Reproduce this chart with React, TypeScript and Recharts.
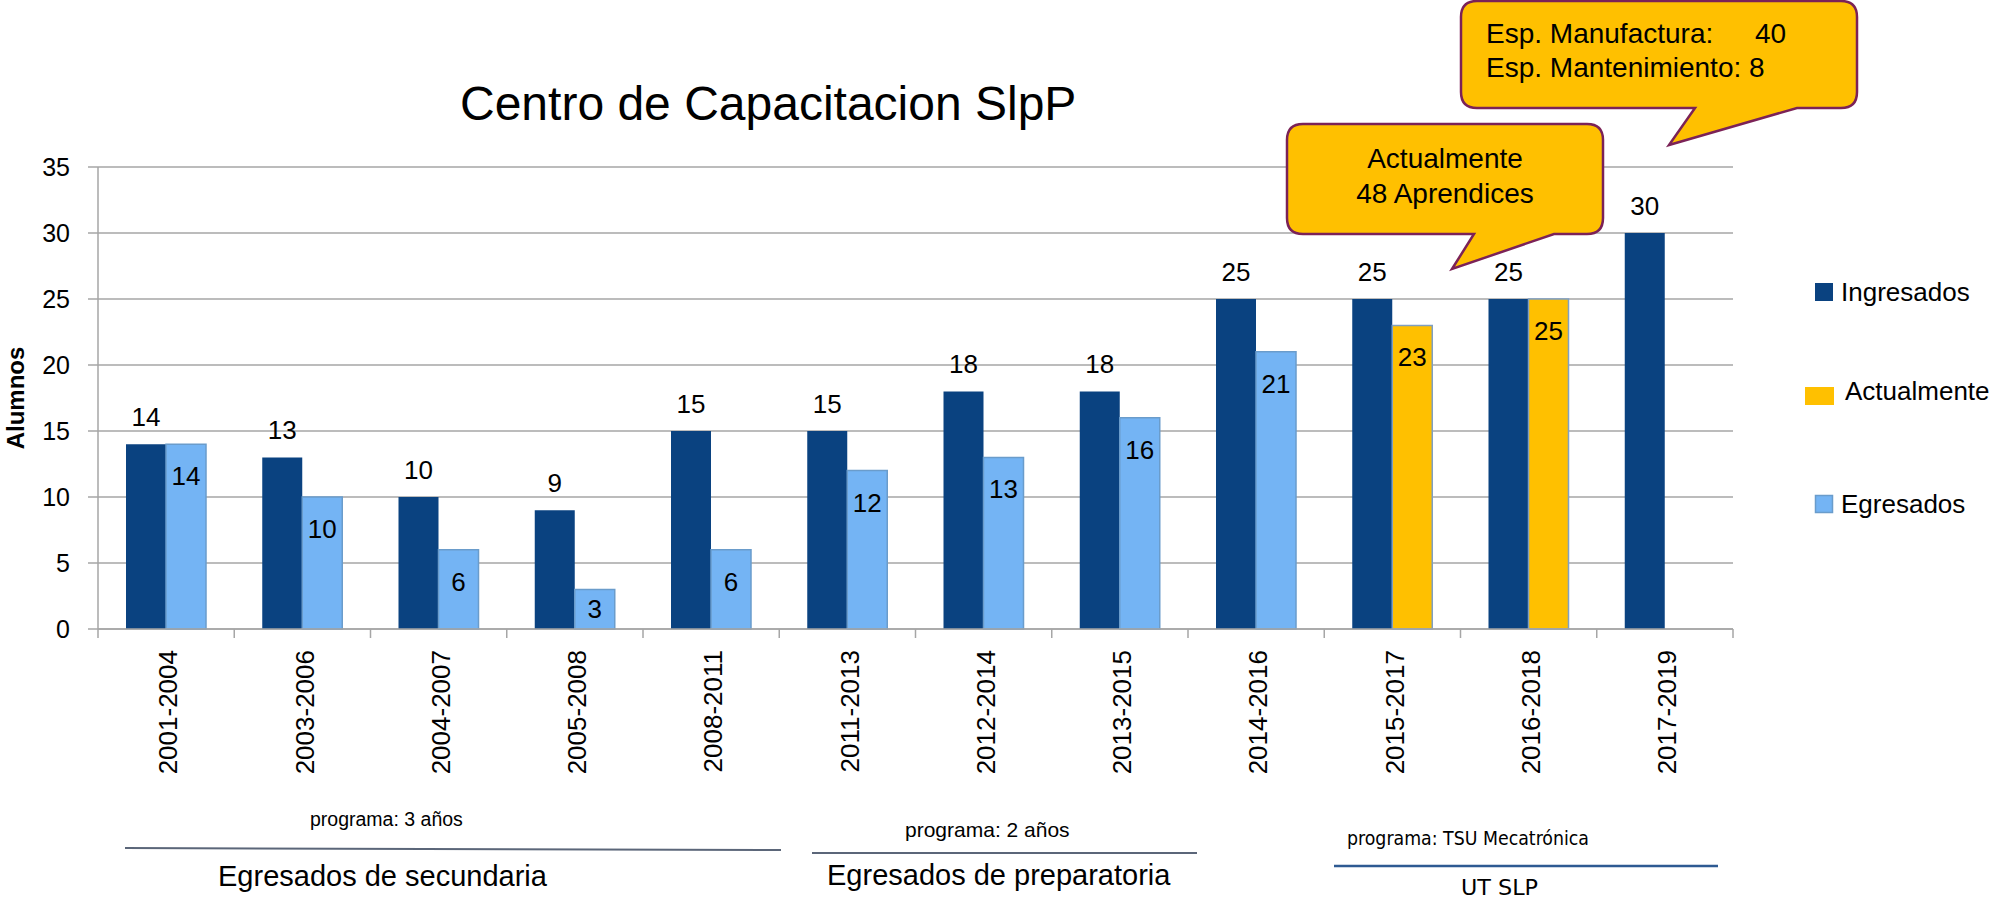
import React from 'react';
import { BarChart, Bar, XAxis, YAxis, CartesianGrid, LabelList } from 'recharts';

const periods = ['2001-2004', '2003-2006', '2004-2007', '2005-2008', '2008-2011', '2011-2013', '2012-2014', '2013-2015', '2014-2016', '2015-2017', '2016-2018', '2017-2019'];
const ingresados = [14, 13, 10, 9, 15, 15, 18, 18, 25, 25, 25, 30];
const egresados: (number | null)[] = [14, 10, 6, 3, 6, 12, 13, 16, 21, null, null, null];
const actualmente: (number | null)[] = [null, null, null, null, null, null, null, null, null, 23, 25, null];
const yTicks = [0, 5, 10, 15, 20, 25, 30, 35];

const seriesNames = { ingresados: 'Ingresados', actualmente: 'Actualmente', egresados: 'Egresados' };
const title = 'Centro de Capacitacion SlpP';
const yLabel = 'Alumnos';
const callout1 = ['Esp. Manufactura:', '40', 'Esp. Mantenimiento: 8'];
const callout2 = ['Actualmente', '48 Aprendices'];
const groups = [
  { programa: 'programa: 3 años', name: 'Egresados de secundaria' },
  { programa: 'programa: 2 años', name: 'Egresados de preparatoria' },
  { programa: 'programa: TSU Mecatrónica', name: 'UT SLP' },
];

const data = periods.map((p, i) => ({
  period: p,
  ingresados: ingresados[i],
  egresados: egresados[i],
  actualmente: actualmente[i],
}));

const FONT = '"Liberation Sans", Arial, sans-serif';
const NARROW = '"Liberation Sans Narrow", "DejaVu Sans Condensed", sans-serif';
const DARK = '#0A4280';
const LIGHT = '#74B4F4';
const LIGHT_STROKE = '#6A9CCB';
const YELLOW = '#FFC000';
const YELLOW_STROKE = '#7F9FC2';
const GRID = '#A6A6A6';
const CALLOUT_STROKE = '#7B2257';
const TICK_SIZE = 6;
const TICK_MARGIN = 15;

const XTick = (props: any) => {
  const { x, y, payload, index, visibleTicksCount, width } = props;
  const half = payload && payload.offset ? payload.offset : width / (2 * (visibleTicksCount || periods.length));
  const axisY = y - TICK_SIZE - TICK_MARGIN;
  const isLast = index === (visibleTicksCount || periods.length) - 1;
  return (
    <g>
      <line x1={x - half} y1={axisY} x2={x - half} y2={axisY + 9} stroke={GRID} strokeWidth={1.5} />
      {isLast && <line x1={x + half} y1={axisY} x2={x + half} y2={axisY + 9} stroke={GRID} strokeWidth={1.5} />}
      <text transform={`translate(${x},${y}) rotate(-90)`} textAnchor="end" dy="0.43em" fontSize={26} fontFamily={FONT} fill="#000">
        {payload.value}
      </text>
    </g>
  );
};

const TopLabel = (props: any) => {
  const { x, y, width, value } = props;
  if (value === null || value === undefined) return null;
  return (
    <text x={x + width / 2} y={y - 18} textAnchor="middle" fontSize={26} fontFamily={FONT} fill="#000">
      {value}
    </text>
  );
};

const InsideLabel = (props: any) => {
  const { x, y, width, height, value } = props;
  if (value === null || value === undefined) return null;
  const baseline = height < 50 ? y + height / 2 + 9 : y + 41;
  return (
    <text x={x + width / 2} y={baseline} textAnchor="middle" fontSize={26} fontFamily={FONT} fill="#000">
      {value}
    </text>
  );
};

export default function App() {
  return (
    <div style={{ position: 'absolute', left: 0, top: 0, width: 1998, height: 904, background: '#fff', overflow: 'hidden' }}>
      <BarChart
        width={1998}
        height={904}
        data={data}
        margin={{ top: 167, right: 265, bottom: 125, left: 38 }}
        barGap={0}
        barSize={40}
      >
        <CartesianGrid horizontal vertical={false} stroke={GRID} strokeWidth={1.5} />
        <XAxis
          dataKey="period"
          height={150}
          tickLine={false}
          tickSize={TICK_SIZE}
          tickMargin={TICK_MARGIN}
          interval={0}
          axisLine={{ stroke: GRID, strokeWidth: 1.5 }}
          tick={<XTick />}
        />
        <YAxis
          width={60}
          domain={[0, 35]}
          ticks={yTicks}
          interval={0}
          tickSize={10}
          tickMargin={18}
          axisLine={{ stroke: GRID, strokeWidth: 1.5 }}
          tickLine={{ stroke: GRID, strokeWidth: 1.5 }}
          tick={{ fontSize: 25, fontFamily: FONT, fill: '#000' }}
        />
        <Bar dataKey="ingresados" name={seriesNames.ingresados} stackId="a" fill={DARK} isAnimationActive={false}>
          <LabelList dataKey="ingresados" content={<TopLabel />} />
        </Bar>
        <Bar dataKey="egresados" name={seriesNames.egresados} stackId="b" fill={LIGHT} stroke={LIGHT_STROKE} strokeWidth={1.5} isAnimationActive={false}>
          <LabelList dataKey="egresados" content={<InsideLabel />} />
        </Bar>
        <Bar dataKey="actualmente" name={seriesNames.actualmente} stackId="b" fill={YELLOW} stroke={YELLOW_STROKE} strokeWidth={1.5} isAnimationActive={false}>
          <LabelList dataKey="actualmente" content={<InsideLabel />} />
        </Bar>
      </BarChart>

      <svg width={1998} height={904} style={{ position: 'absolute', left: 0, top: 0, pointerEvents: 'none' }}>
        <text x={460} y={120} fontSize={48} fontFamily={FONT} fill="#000">{title}</text>
        <text transform="translate(24,398) rotate(-90)" textAnchor="middle" fontSize={24} fontWeight="bold" fontFamily={FONT} fill="#000">{yLabel}</text>

        {/* callout 1 */}
        <path
          d="M 1477 1 H 1841 Q 1857 1 1857 17 V 92 Q 1857 108 1841 108 H 1797 L 1669 145 L 1695 108 H 1477 Q 1461 108 1461 92 V 17 Q 1461 1 1477 1 Z"
          fill={YELLOW}
          stroke={CALLOUT_STROKE}
          strokeWidth={2.5}
        />
        <text x={1486} y={43} fontSize={28} fontFamily={FONT} fill="#000">{callout1[0]}</text>
        <text x={1755} y={43} fontSize={28} fontFamily={FONT} fill="#000">{callout1[1]}</text>
        <text x={1486} y={77} fontSize={28} fontFamily={FONT} fill="#000">{callout1[2]}</text>

        {/* callout 2 */}
        <path
          d="M 1303 124 H 1587 Q 1603 124 1603 140 V 218 Q 1603 234 1587 234 H 1554 L 1452 269 L 1474 234 H 1303 Q 1287 234 1287 218 V 140 Q 1287 124 1303 124 Z"
          fill={YELLOW}
          stroke={CALLOUT_STROKE}
          strokeWidth={2.5}
        />
        <text x={1445} y={168} textAnchor="middle" fontSize={28} fontFamily={FONT} fill="#000">{callout2[0]}</text>
        <text x={1445} y={203} textAnchor="middle" fontSize={28} fontFamily={FONT} fill="#000">{callout2[1]}</text>

        {/* legend */}
        <rect x={1815} y={283} width={18} height={18} fill={DARK} />
        <text x={1841} y={301} fontSize={26} fontFamily={FONT} fill="#000">{seriesNames.ingresados}</text>
        <rect x={1805} y={387} width={29} height={18} fill={YELLOW} />
        <text x={1845} y={400} fontSize={26} fontFamily={FONT} fill="#000">{seriesNames.actualmente}</text>
        <rect x={1815.5} y={495.5} width={17} height={17} fill={LIGHT} stroke={LIGHT_STROKE} strokeWidth={1.5} />
        <text x={1841} y={513} fontSize={26} fontFamily={FONT} fill="#000">{seriesNames.egresados}</text>

        {/* bottom groups */}
        <text x={310} y={826} fontSize={19.5} fontFamily={FONT} fill="#000">{groups[0].programa}</text>
        <line x1={125} y1={848} x2={781} y2={850} stroke="#5B6679" strokeWidth={2} />
        <text x={218} y={886} fontSize={29} fontFamily={FONT} fill="#000">{groups[0].name}</text>

        <text x={905} y={837} fontSize={21} fontFamily={FONT} fill="#000">{groups[1].programa}</text>
        <line x1={812} y1={853} x2={1197} y2={853} stroke="#5B6679" strokeWidth={2} />
        <text x={827} y={885} fontSize={29} fontFamily={FONT} fill="#000">{groups[1].name}</text>

        <text x={1347} y={845} fontSize={19} fontFamily={NARROW} textLength={242} lengthAdjust="spacingAndGlyphs" fill="#000">{groups[2].programa}</text>
        <line x1={1334} y1={866} x2={1718} y2={866} stroke="#2E5A92" strokeWidth={2.5} />
        <text x={1461} y={895} fontSize={22} fontFamily={NARROW} textLength={77} lengthAdjust="spacingAndGlyphs" fill="#000">{groups[2].name}</text>
      </svg>
    </div>
  );
}
